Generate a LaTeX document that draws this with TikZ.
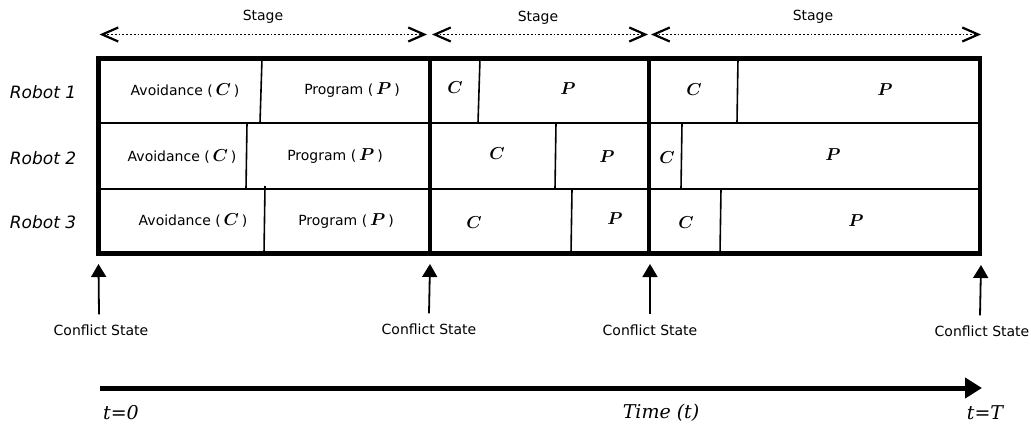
\documentclass[tikz,border=0pt]{standalone}
\usepackage{bm}
\usepackage{fontspec}
\setmainfont{DejaVu Sans}
\newfontfamily\timefont{DejaVu Serif}
\usetikzlibrary{arrows.meta}

\newcommand{\opsym}[1]{{\fontsize{17.28}{18}\selectfont$\,\bm{#1}\,$}}

\tikzstyle{chart}=[x=1pt,y=-1pt]
\tikzstyle{boxline}=[line width=4.5pt]
\tikzstyle{rowline}=[line width=2pt]
\tikzstyle{cutline}=[line width=1.6pt]
\tikzstyle{stagearrow}=[dotted,line width=1.8pt,
  {Straight Barb[length=16pt,width=14pt,line width=2.2pt]}-{Straight Barb[length=16pt,width=14pt,line width=2.2pt]}]
\tikzstyle{conflictarrow}=[line width=1.8pt,-{Triangle[length=13pt,width=15pt]}]
\tikzstyle{timearrow}=[line width=5pt,-{Triangle[length=17pt,width=20pt]}]
\tikzstyle{txt}=[font=\fontsize{14}{16}\selectfont]
\tikzstyle{letter}=[font=\fontsize{17.28}{18}\selectfont]
\tikzstyle{robot}=[font=\fontsize{17}{20}\selectfont\itshape]
\tikzstyle{timelabel}=[font=\fontsize{19}{22}\selectfont\timefont\itshape]

\begin{document}
\begin{tikzpicture}[style=chart]
\useasboundingbox (0,0) rectangle (1031,425);

% stage limits, top and bottom of the chart
\coordinate (b0) at (98.5,58.5);
\coordinate (b1) at (430,58.5);
\coordinate (b2) at (649,58.5);
\coordinate (b3) at (980,58.5);
\coordinate (e0) at (98.5,253.5);
\coordinate (e1) at (430,253.5);
\coordinate (e2) at (649,253.5);
\coordinate (e3) at (980,253.5);

% stages
\draw[stagearrow] ([shift={(1,-24)}]b0) -- ([shift={(-3,-24)}]b1);
\draw[stagearrow] ([shift={(2,-24)}]b1) -- ([shift={(-1,-24)}]b2);
\draw[stagearrow] ([shift={(2,-24)}]b2) -- ([shift={(1,-24)}]b3);
\node[txt] (stage1) at (263,17) {Stage};
\node[txt] (stage2) at (538,18) {Stage};
\node[txt] (stage3) at (813,17) {Stage};

% chart frame
\draw[boxline] (b0) rectangle (e3);
\draw[boxline] (b1) -- (e1);
\draw[boxline] (b2) -- (e2);
\draw[rowline] (98.5,123) -- (980,123);
\draw[rowline] (98.5,189) -- (980,189);

% robots
\node[robot] (robot1) at (43,92) {Robot 1};
\node[robot] (robot2) at (43,158) {Robot 2};
\node[robot] (robot3) at (43,222) {Robot 3};

% robot 1
\draw[cutline] (262,58.5) -- (260,123);
\draw[cutline] (480,58.5) -- (478,123);
\draw[cutline] (738,58.5) -- (737,123);
\node[txt] (av1) at (185,90) {Avoidance (\opsym{C})};
\node[txt] (pr1) at (352,90) {Program (\opsym{P})};
\node[letter] (c12) at (455,88) {$\bm{C}$};
\node[letter] (p12) at (568,89) {$\bm{P}$};
\node[letter] (c13) at (694,90) {$\bm{C}$};
\node[letter] (p13) at (885,90) {$\bm{P}$};

% robot 2
\draw[cutline] (247,123) -- (246,189);
\draw[cutline] (556,123) -- (555,189);
\draw[cutline] (682,123) -- (681,189);
\node[txt] (av2) at (182,156) {Avoidance (\opsym{C})};
\node[txt] (pr2) at (335,156) {Program (\opsym{P})};
\node[letter] (c22) at (497,154) {$\bm{C}$};
\node[letter] (p22) at (607,157) {$\bm{P}$};
\node[letter] (c23) at (667,158) {$\bm{C}$};
\node[letter] (p23) at (833,155) {$\bm{P}$};

% robot 3
\draw[cutline] (265,186) -- (264,253.5);
\draw[cutline] (572,189) -- (571,253.5);
\draw[cutline] (721,189) -- (720,253.5);
\node[txt] (av3) at (193,220) {Avoidance (\opsym{C})};
\node[txt] (pr3) at (346,221) {Program (\opsym{P})};
\node[letter] (c32) at (474,223) {$\bm{C}$};
\node[letter] (p32) at (615,219) {$\bm{P}$};
\node[letter] (c33) at (686,223) {$\bm{C}$};
\node[letter] (p33) at (856,221) {$\bm{P}$};

% conflict states
\node[txt,inner sep=0pt] (cs0) at (101,330) {Conflict State};
\node[txt,inner sep=0pt] (cs1) at (429,329) {Conflict State};
\node[txt,inner sep=0pt] (cs2) at (650,330) {Conflict State};
\node[txt,inner sep=0pt] (cs3) at (982,331) {Conflict State};
\draw[conflictarrow] ([shift={(-2,-10)}]cs0.north) -- ([shift={(0,10.5)}]e0);
\draw[conflictarrow] ([shift={(0,-10)}]cs1.north) -- ([shift={(0,10.5)}]e1);
\draw[conflictarrow] ([shift={(0,-10)}]cs2.north) -- ([shift={(1,10.5)}]e2);
\draw[conflictarrow] ([shift={(-2,-10)}]cs3.north) -- ([shift={(1,11.5)}]e3);

% time axis
\coordinate (origin) at (100,388);
\coordinate (tend) at (982,388);
\draw[timearrow] (origin) -- (tend);
\node[timelabel] (tzero) at (121,413) {t=0};
\node[timelabel] (time) at (661,413) {Time (t)};
\node[timelabel] (tlast) at (985,413) {t=T};
\end{tikzpicture}
\end{document}
